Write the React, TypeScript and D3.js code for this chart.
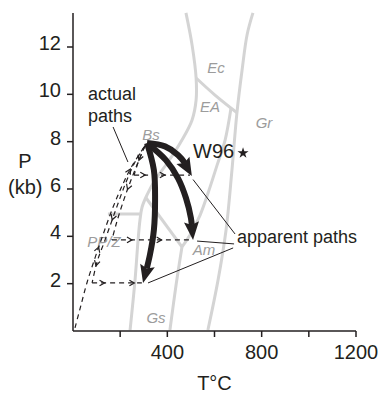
import React, { useEffect, useRef } from "react";
import * as d3 from "d3";

const W = 381;
const H = 394;
const INK = "#231f20";
const FONT = "'Liberation Sans', Arial, Helvetica, sans-serif";

// Axis ticks
const xTicks = [200, 400, 600, 800, 1000, 1200];
const xTickLabels = ["", "400", "", "800", "", "1200"];
const yTicks = [2, 4, 6, 8, 10, 12];
const yTickLabels = ["2", "4", "6", "8", "10", "12"];

// Facies boundaries [T °C, P kb]
const grBoundary = [[763, 13.44], [738, 12.51], [717, 11.03], [695, 9.21], [674, 6.8], [649, 4.27], [615, 2.15], [572, 0.04]];
const bsBoundary = [[479, 13.44], [505, 12.08], [522, 10.69], [522, 9.76], [505, 8.92], [462, 8.07], [403, 7.14], [348, 6.38], [314, 5.75], [293, 5.24], [284, 4.69], [276, 3.85], [263, 2.15], [242, 0.04]];
const ppBoundary = [[148, 4.94], [284, 4.94]];
const bsGsBoundary = [[310, 5.62], [462, 3.55]];
const eaAmBoundary = [[670, 9.42], [645, 8.07], [611, 7.01], [581, 6.08], [539, 4.9], [496, 4.06], [462, 3.55]];
const gsAmBoundary = [[462, 3.55], [437, 1.94], [411, 0.04]];
const ecEaBoundary = [[522, 10.69], [602, 9.97], [697, 9.21]];
const faciesLines = [grBoundary, bsBoundary, ppBoundary, bsGsBoundary, eaAmBoundary, gsAmBoundary, ecEaBoundary];

// Facies labels [name, T, P]
const faciesNames = ["Ec", "EA", "Gr", "Bs", "PP/Z", "Am", "Gs"];
const faciesT = [606, 581, 810, 331, 131, 555, 352];
const faciesP = [10.9, 9.25, 8.58, 8.07, 3.55, 3.21, 0.34];

// Apparent (thick) paths
const apparent1 = [[314, 7.94], [390, 7.8], [445, 7.44], [483, 6.97], [504, 6.55]];
const apparent2 = [[314, 7.94], [394, 7.22], [445, 6.46], [479, 5.62], [500, 4.77], [509, 3.85]];
const apparent3 = [[314, 7.94], [343, 6.8], [348, 5.54], [343, 4.27], [326, 3.21], [297, 2.03]];
const apparentPaths = [apparent1, apparent2, apparent3];

// Actual (dashed) paths
const prograde = [[8.5, 0.13], [34, 1.1], [59, 2.03], [93, 3.08], [127, 4.06], [165, 5.11], [208, 6.13], [250, 6.97], [305, 7.82]];
const descent1 = [[305, 7.82], [280, 7.23], [259, 6.59]];
const descent2 = [[305, 7.82], [271, 7.01], [238, 6.17], [208, 5.32], [182, 4.48], [165, 3.85]];
const descent3 = [[305, 7.82], [263, 7.14], [220, 6.17], [178, 5.03], [136, 3.85], [102, 2.92], [81, 2.03]];
const isobar1 = [[259, 6.59], [496, 6.59]];
const isobar2 = [[165, 3.85], [505, 3.85]];
const isobar3 = [[81, 2.03], [292, 2.03]];
const dashedCurves = [prograde, descent1, descent2, descent3];
const dashedStraight = [isobar1, isobar2, isobar3];
const curveArrows = [[0.43, 0.86], [0.5], [0.47], [0.55, 0.88]];
const straightArrows = [[0.2, 0.55], [0.25, 0.62], [0.25, 0.85]];

// Leader lines [[T1,P1],[T2,P2]]
const leaderActual = [[170, 8.62], [233, 7.14]];
const leaderA1 = [[509, 6.4], [687, 4.1]];
const leaderA2 = [[526, 3.8], [683, 3.68]];
const leaderA3 = [[318, 2.03], [679, 3.51]];
const leaders = [leaderActual, leaderA1, leaderA2, leaderA3];

export default function App() {
  const ref = useRef<SVGSVGElement>(null);

  useEffect(() => {
    const svg = d3.select(ref.current);
    svg.selectAll("*").remove();

    const x = d3.scaleLinear().domain([0, 1200]).range([73, 356]);
    const y = d3.scaleLinear().domain([0, 12]).range([331, 47]);
    const pTop = y.invert(13);

    const smooth = d3
      .line<number[]>()
      .x((d) => x(d[0]))
      .y((d) => y(d[1]))
      .curve(d3.curveCatmullRom.alpha(0.5));
    const straight = d3
      .line<number[]>()
      .x((d) => x(d[0]))
      .y((d) => y(d[1]));

    // Facies boundaries
    const gFac = svg.append("g");
    faciesLines.forEach((f) => {
      gFac
        .append("path")
        .attr("d", smooth(f as any))
        .attr("fill", "none")
        .attr("stroke", "#d4d4d4")
        .attr("stroke-width", 3)
        .attr("stroke-linejoin", "round");
    });
    faciesNames.forEach((n, i) => {
      gFac
        .append("text")
        .attr("x", x(faciesT[i]))
        .attr("y", y(faciesP[i]))
        .attr("text-anchor", "middle")
        .attr("font-family", FONT)
        .attr("font-style", "italic")
        .attr("font-size", 15)
        .attr("fill", "#9c9c9c")
        .text(n);
    });

    // Axes
    const gAx = svg.append("g").attr("stroke", INK).attr("stroke-width", 1.5);
    gAx.append("line").attr("x1", x(0)).attr("x2", x(0)).attr("y1", y(0)).attr("y2", y(pTop));
    gAx.append("line").attr("x1", x(0)).attr("x2", x(1200)).attr("y1", y(0)).attr("y2", y(0));
    yTicks.forEach((t) => {
      gAx.append("line").attr("x1", x(0) - 6).attr("x2", x(0)).attr("y1", y(t)).attr("y2", y(t));
    });
    xTicks.forEach((t) => {
      gAx.append("line").attr("x1", x(t)).attr("x2", x(t)).attr("y1", y(0)).attr("y2", y(0) + 6);
    });
    const gTxt = svg.append("g").attr("font-family", FONT).attr("fill", INK);
    yTicks.forEach((t, i) => {
      gTxt
        .append("text")
        .attr("x", x(0) - 12)
        .attr("y", y(t) + 3)
        .attr("text-anchor", "end")
        .attr("font-size", 20)
        .text(yTickLabels[i]);
    });
    xTicks.forEach((t, i) => {
      if (!xTickLabels[i]) return;
      gTxt
        .append("text")
        .attr("x", x(t))
        .attr("y", y(0) + 28)
        .attr("text-anchor", "middle")
        .attr("font-size", 20)
        .text(xTickLabels[i]);
    });
    gTxt.append("text").attr("x", 25).attr("y", 168).attr("text-anchor", "middle").attr("font-size", 20).text("P");
    gTxt.append("text").attr("x", 8).attr("y", y(6) + 5).attr("font-size", 20).text("(kb)");
    gTxt.append("text").attr("x", x(600)).attr("y", 390).attr("text-anchor", "middle").attr("font-size", 20).text("T°C");

    // Leader lines
    leaders.forEach((l) => {
      svg
        .append("path")
        .attr("d", straight(l as any))
        .attr("fill", "none")
        .attr("stroke", INK)
        .attr("stroke-width", 1);
    });

    // Dashed actual paths
    const gDash = svg.append("g");
    const chevron = "M-5,-2.8L0,0L-5,2.8";
    const drawDashed = (pts: number[][], gen: any, fracs: number[]) => {
      const p = gDash
        .append("path")
        .attr("d", gen(pts))
        .attr("fill", "none")
        .attr("stroke", INK)
        .attr("stroke-width", 1.2)
        .attr("stroke-dasharray", "5,4");
      const node = p.node() as SVGPathElement;
      const L = node.getTotalLength();
      fracs.forEach((f) => {
        const a = node.getPointAtLength(L * f);
        const b = node.getPointAtLength(Math.min(L, L * f + 2));
        const a0 = node.getPointAtLength(Math.max(0, L * f - 2));
        const ang = (Math.atan2(b.y - a0.y, b.x - a0.x) * 180) / Math.PI;
        gDash
          .append("path")
          .attr("d", chevron)
          .attr("transform", `translate(${a.x},${a.y}) rotate(${ang})`)
          .attr("fill", "none")
          .attr("stroke", INK)
          .attr("stroke-width", 1.2);
      });
    };
    dashedCurves.forEach((c, i) => drawDashed(c, smooth, curveArrows[i]));
    dashedStraight.forEach((c, i) => drawDashed(c, straight, straightArrows[i]));

    // Thick apparent paths with arrowheads
    const gThick = svg.append("g");
    const headLen = 18;
    const headHalf = 7.5;
    apparentPaths.forEach((pts) => {
      const p = gThick
        .append("path")
        .attr("d", smooth(pts as any))
        .attr("fill", "none")
        .attr("stroke", INK)
        .attr("stroke-width", 6)
        .attr("stroke-linecap", "butt");
      const node = p.node() as SVGPathElement;
      const L = node.getTotalLength();
      p.attr("stroke-dasharray", `${L - headLen + 3},${L + 10}`);
      const tip = node.getPointAtLength(L);
      const back = node.getPointAtLength(L - headLen);
      const dx = tip.x - back.x;
      const dy = tip.y - back.y;
      const len = Math.hypot(dx, dy);
      const ux = dx / len;
      const uy = dy / len;
      const bx = tip.x - ux * headLen;
      const by = tip.y - uy * headLen;
      gThick
        .append("path")
        .attr(
          "d",
          `M${tip.x},${tip.y}L${bx - uy * headHalf},${by + ux * headHalf}L${bx + ux * 3},${by + uy * 3}L${bx + uy * headHalf},${by - ux * headHalf}Z`
        )
        .attr("fill", INK);
    });

    // Annotations
    gTxt.append("text").attr("x", x(64)).attr("y", y(9.76)).attr("font-size", 18).text("actual");
    gTxt.append("text").attr("x", x(64)).attr("y", y(8.83)).attr("font-size", 18).text("paths");
    gTxt.append("text").attr("x", x(509)).attr("y", y(7.31)).attr("font-size", 20).text("W96");
    gTxt.append("text").attr("x", x(695)).attr("y", y(3.72)).attr("font-size", 18).text("apparent paths");
    svg
      .append("path")
      .attr("d", d3.symbol(d3.symbolStar, 38)() as string)
      .attr("transform", `translate(${x(721)},${y(7.52)})`)
      .attr("fill", INK);
  }, []);

  return (
    <svg
      ref={ref}
      width={W}
      height={H}
      style={{ position: "absolute", left: 0, top: 0, background: "#fff" }}
    />
  );
}
